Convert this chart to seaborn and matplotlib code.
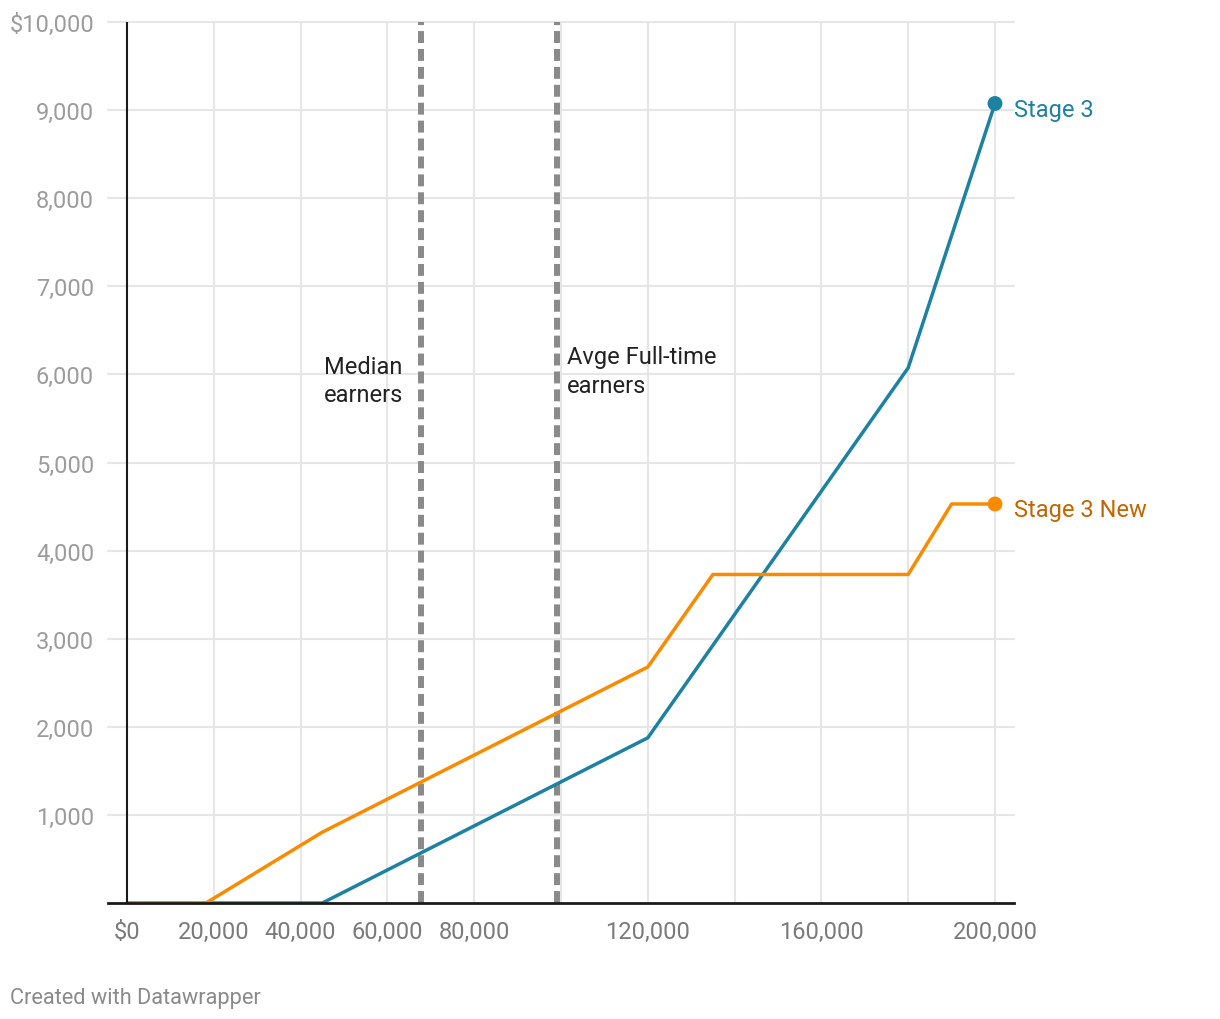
import matplotlib
matplotlib.use("Agg")
import matplotlib.pyplot as plt
import seaborn as sns
import pandas as pd

# data
income_s3 = [0, 18200, 45000, 120000, 180000, 200000]
cut_s3 = [0, 0, 0, 1875, 6075, 9075]

income_new = [0, 18200, 45000, 120000, 135000, 180000, 190000, 200000]
cut_new = [0, 0, 804, 2679, 3729, 3729, 4529, 4529]

series_names = ["Stage 3", "Stage 3 New"]
line_colors = ["#1d81a2", "#fa8b00"]
label_colors = ["#1d81a2", "#c46500"]

markers_x = [67700, 99100]
markers_text = ["Median\nearners", "Avge Full-time\nearners"]

x_ticks = [0, 20000, 40000, 60000, 80000, 100000, 120000, 140000, 160000, 180000, 200000]
x_labels = ["$0", "20,000", "40,000", "60,000", "80,000", "", "120,000", "", "160,000", "", "200,000"]
y_ticks = [0, 1000, 2000, 3000, 4000, 5000, 6000, 7000, 8000, 9000, 10000]
y_labels = ["", "1,000", "2,000", "3,000", "4,000", "5,000", "6,000", "7,000", "8,000", "9,000", "$10,000"]

df = pd.concat([
    pd.DataFrame({"income": income_s3, "cut": cut_s3, "series": series_names[0]}),
    pd.DataFrame({"income": income_new, "cut": cut_new, "series": series_names[1]}),
])

sns.set_theme(style="white")
plt.rcParams["font.family"] = ["Roboto", "DejaVu Sans"]

fig = plt.figure(figsize=(12.2, 10.2), dpi=100)
ax = fig.add_axes([108 / 1220, 116 / 1020, 906 / 1220, 881 / 1020])

# gridlines
for xt in x_ticks[1:]:
    ax.axvline(xt, color="#e6e6e6", lw=1.5, zorder=0)
for yt in y_ticks[1:]:
    ax.axhline(yt, color="#e6e6e6", lw=1.5, zorder=0, clip_on=False)

# reference lines
for xm in markers_x:
    ax.axvline(xm, color="#8a8a8a", lw=4.3, dashes=(2, 1), zorder=1)

ax.text(63600, 5930, markers_text[0], ha="right", va="center", multialignment="center",
        fontsize=17, color="#222222", linespacing=1.3)
ax.text(101400, 6040, markers_text[1], ha="left", va="center",
        fontsize=17, color="#222222", linespacing=1.3)

palette = dict(zip(series_names, line_colors))
sns.lineplot(data=df, x="income", y="cut", hue="series", palette=palette,
             lw=2.5, sort=False, legend=False, ax=ax, zorder=3)

ends = df.groupby("series").tail(1)
sns.scatterplot(data=ends, x="income", y="cut", hue="series", palette=palette,
                s=115, edgecolor="none", legend=False, ax=ax, zorder=4, clip_on=False)

for name, col in zip(series_names, label_colors):
    row = ends[ends["series"] == name].iloc[0]
    ax.annotate(name, (row["income"], row["cut"]), xytext=(14, -4), textcoords="offset points",
                ha="left", va="center", fontsize=17, color=col, annotation_clip=False)

# y axis at zero
ax.axvline(0, color="#1a1a1a", lw=1.5, zorder=5)

ax.set_xlim(-4380, 204380)
ax.set_ylim(0, 10000)
ax.set_xticks(x_ticks)
ax.set_xticklabels(x_labels)
ax.set_yticks(y_ticks)
ax.set_yticklabels(y_labels)
ax.tick_params(axis="x", length=0, pad=12, labelsize=17, labelcolor="#7a7a7a")
ax.tick_params(axis="y", length=0, pad=10, labelsize=17, labelcolor="#9c9c9c")
ax.set_xlabel("")
ax.set_ylabel("")

for s in ["top", "right", "left"]:
    ax.spines[s].set_visible(False)
ax.spines["bottom"].set_color("#1a1a1a")
ax.spines["bottom"].set_linewidth(2)
ax.spines["bottom"].set_zorder(6)

fig.text(10 / 1220, 1 - 999 / 1020, "Created with Datawrapper", ha="left", va="center",
         fontsize=15.7, color="#8a8a8a")

fig.savefig("out.png", dpi=100)
